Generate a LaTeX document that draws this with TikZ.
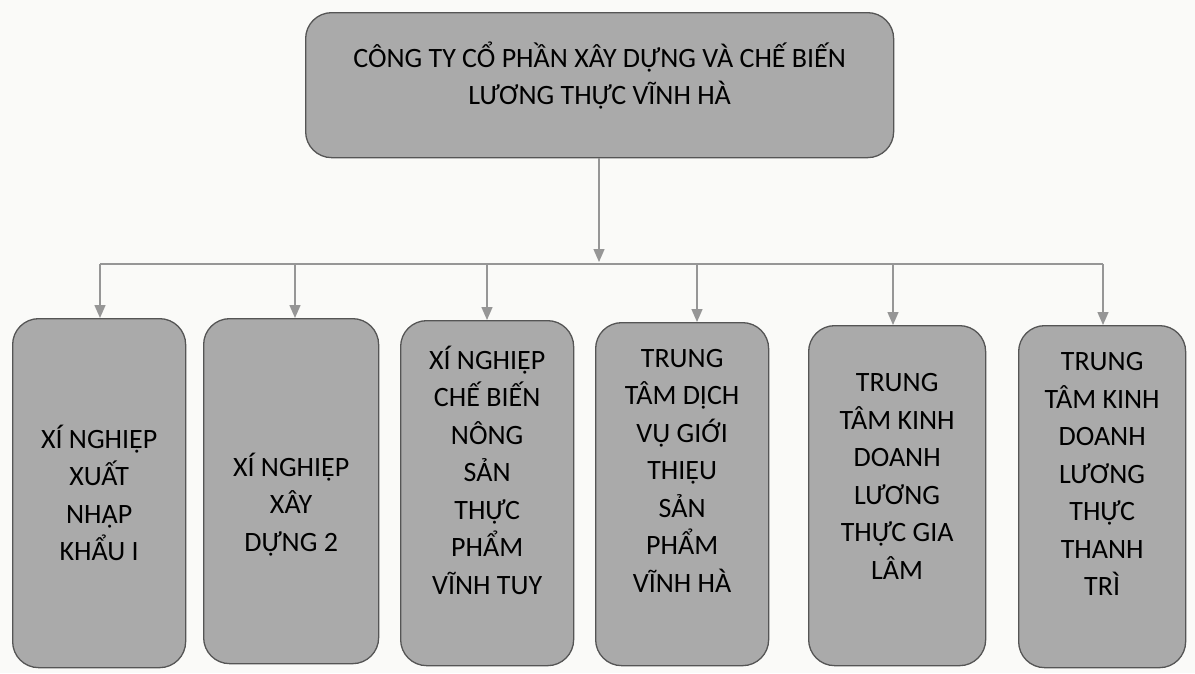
\documentclass[tikz,border=0pt]{standalone}
\usepackage{fontspec}
\setmainfont{Carlito}
\usetikzlibrary{arrows.meta}
\definecolor{boxgray}{RGB}{170,170,170}
\definecolor{edgegray}{RGB}{85,85,85}
\definecolor{linkgray}{RGB}{150,150,150}
\definecolor{paper}{RGB}{250,250,248}
\tikzset{
  unit/.style={draw=edgegray, line width=1.3pt, fill=boxgray, rounded corners=26pt,
    align=center, anchor=north west, inner sep=0pt,
    font=\fontsize{28}{37.5}\selectfont},
  link/.style={draw=linkgray, line width=1.4pt},
  linkarrow/.style={link, -{Triangle[width=11pt,length=13pt]}}
}

\begin{document}
\begin{tikzpicture}[x=1pt, y=-1pt]
  \useasboundingbox[fill=paper] (0,0) rectangle (1195,673);

  \node [unit, minimum width=588pt, minimum height=145pt] (cty) at (305,12)
    {CÔNG TY CỔ PHẦN XÂY DỰNG VÀ CHẾ BIẾN\\LƯƠNG THỰC VĨNH HÀ\\[-14pt]\mbox{}};

  \node [unit, minimum width=173pt, minimum height=349pt] (c1) at (12,318)
    {XÍ NGHIỆP\\XUẤT\\NHẬP\\KHẨU I};
  \node [unit, minimum width=175pt, minimum height=345pt] (c2) at (203,318)
    {\mbox{}\\[12pt]XÍ NGHIỆP\\XÂY\\DỰNG 2};
  \node [unit, minimum width=173pt, minimum height=345pt] (c3) at (400,320)
    {XÍ NGHIỆP\\CHẾ BIẾN\\NÔNG\\SẢN\\THỰC\\PHẨM\\VĨNH TUY\\[9pt]\mbox{}};
  \node [unit, minimum width=173pt, minimum height=343pt] (c4) at (595,322)
    {TRUNG\\TÂM DỊCH\\VỤ GIỚI\\THIỆU\\SẢN\\PHẨM\\VĨNH HÀ\\[9pt]\mbox{}};
  \node [unit, minimum width=177pt, minimum height=340pt] (c5) at (808,325)
    {TRUNG\\TÂM KINH\\DOANH\\LƯƠNG\\THỰC GIA\\LÂM\\[1pt]\mbox{}};
  \node [unit, minimum width=167pt, minimum height=342pt] (c6) at (1018,325)
    {TRUNG\\TÂM KINH\\DOANH\\LƯƠNG\\THỰC\\THANH\\TRÌ\\[7pt]\mbox{}};

  % bus line and drops
  \coordinate (bus) at (599,262);
  \coordinate (d1) at (100,264);
  \coordinate (d2) at (295,264);
  \coordinate (d3) at (487,264);
  \coordinate (d4) at (697,264);
  \coordinate (d5) at (893,264);
  \coordinate (d6) at (1103,264);

  \draw [linkarrow] (cty.south -| bus) -- (bus);
  \draw [link] (d1) -- (d6);
  \foreach \i in {1,...,6}
    \draw [linkarrow] (d\i) -- (d\i |- c\i.north);
\end{tikzpicture}
\end{document}
